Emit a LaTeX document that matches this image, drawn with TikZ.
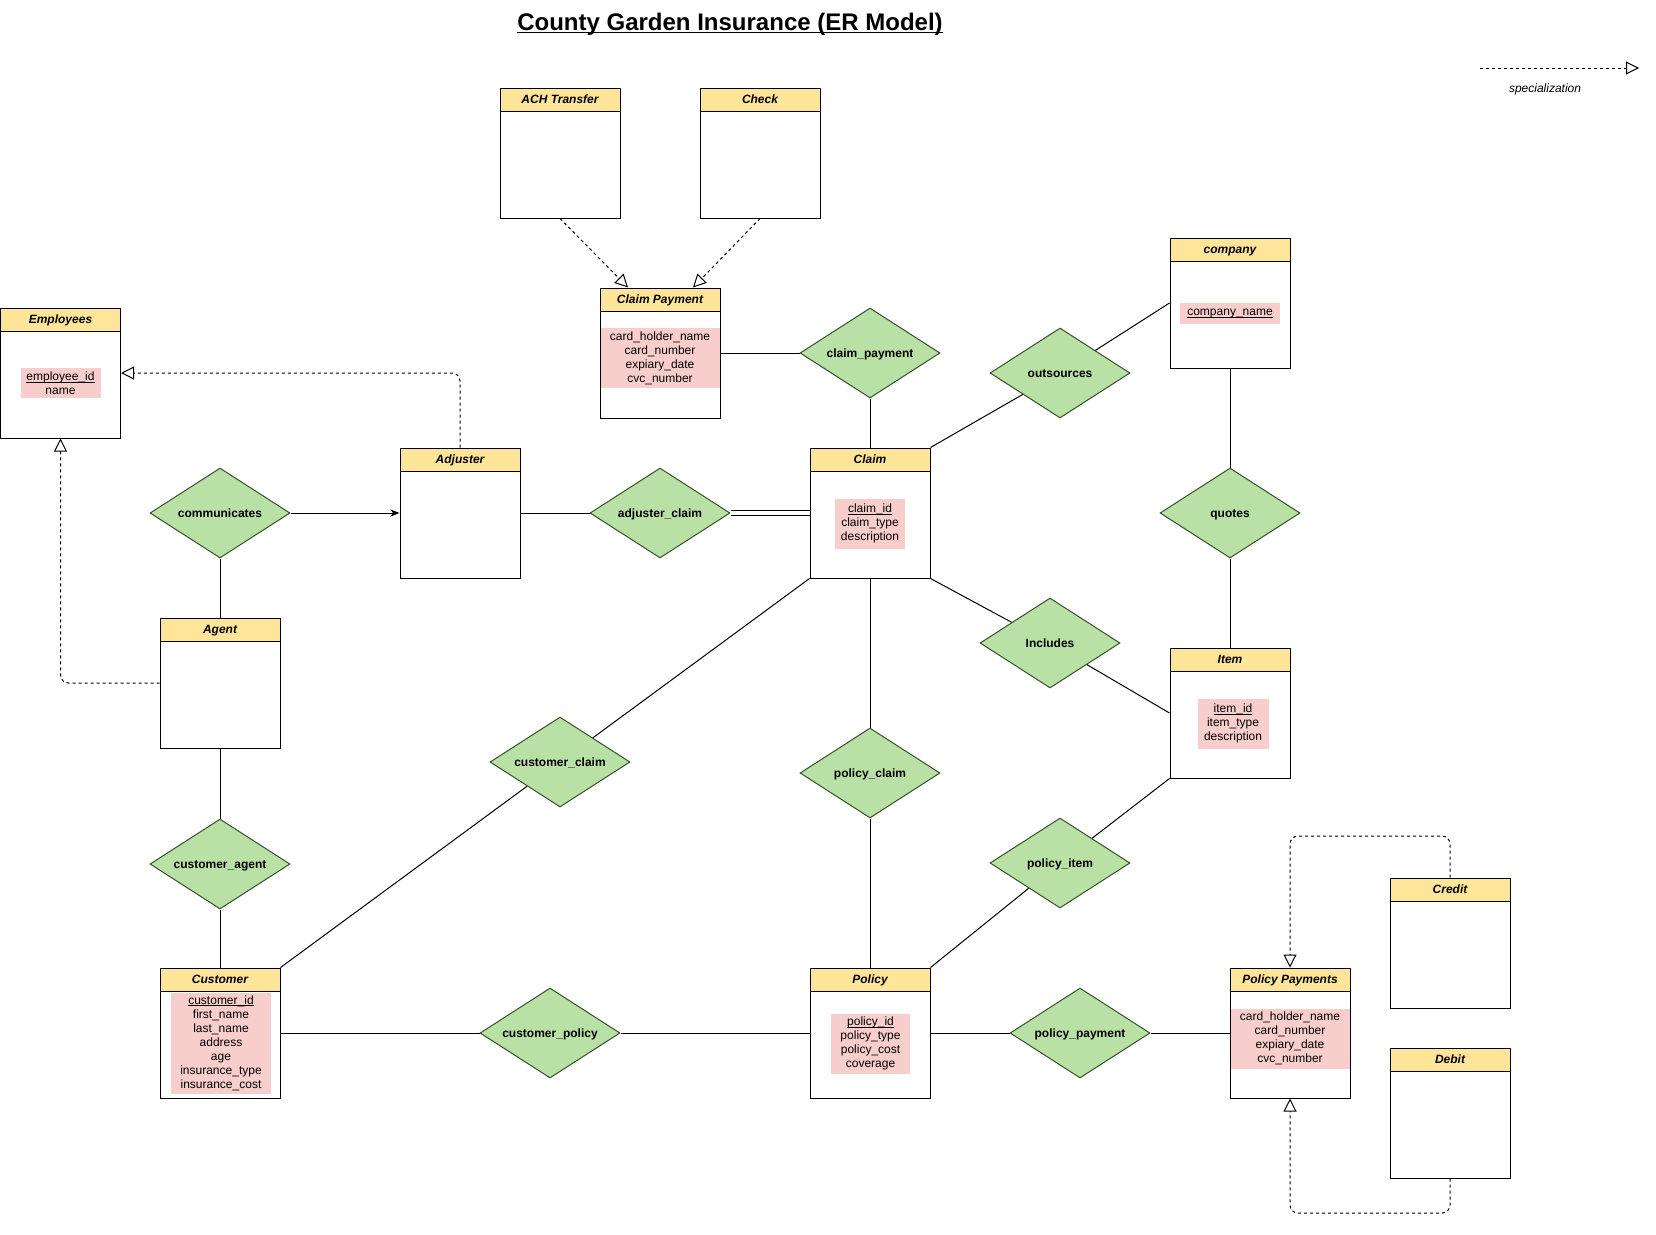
\documentclass[tikz,border=0pt]{standalone}
\usepackage{fontspec}
\setmainfont{Liberation Sans}
\setsansfont{Liberation Sans}
\usetikzlibrary{shapes.geometric,arrows.meta,calc}
\definecolor{hdr}{HTML}{FFE599}
\definecolor{relfill}{HTML}{B9E0A5}
\definecolor{relline}{HTML}{36522A}
\definecolor{pinkattr}{HTML}{F8CECC}
\newcommand\ERhead{\fontsize{12}{14}\selectfont\bfseries\itshape}
\newcommand\ERattr{\fontsize{12}{14}\selectfont}
\newcommand\ERrel{\fontsize{12}{14}\selectfont\bfseries}
\newcommand\ERtitle{\fontsize{24}{28}\selectfont\bfseries}
\newcommand\ERul[1]{\setbox0\hbox{#1}\rlap{\rule[-2pt]{\wd0}{0.7pt}}\box0}
\tikzset{
  entbody/.style={draw=black, line width=1pt, fill=white, minimum width=120pt, minimum height=130pt, inner sep=0pt},
  enthead/.style={draw=black, line width=1pt, fill=hdr, minimum width=120pt, minimum height=23pt, inner sep=0pt, font=\ERhead, text height=8.6pt, text depth=0pt, anchor=north},
  attr/.style={fill=pinkattr, inner sep=0pt, align=center, font=\ERattr},
  rel/.style={diamond, aspect=1.556, draw=relline, line width=1pt, fill=relfill, minimum width=140pt, minimum height=90pt, inner sep=0pt, font=\ERrel, text height=8.6pt, text depth=0pt},
  conn/.style={line width=1pt, draw=black},
  dbl/.style={line width=1pt, draw=black, double=white, double distance=3.5pt},
  spec/.style={line width=1pt, dash pattern=on 3pt off 3pt, rounded corners=8pt, -{Triangle[open, length=13pt, width=13pt]}},
}
\begin{document}
\begin{tikzpicture}[x=1pt,y=-1pt]
\useasboundingbox (0,0) rectangle (1656,1234);
\fill[white] (0,0) rectangle (1656,1234);

% title
\node[font=\ERtitle, inner sep=0pt, anchor=base] (title) at (730,30) {County Garden Insurance (ER Model)};
\draw[line width=1.6pt] ([yshift=-2.6pt]title.base west) -- ([yshift=-2.6pt]title.base east);

% legend
\coordinate (lg1) at (1480,68);
\coordinate (lg2) at (1639,68);
\draw[spec] (lg1) -- (lg2);
\node[font=\ERattr\itshape] (legtext) at (1545,89) {specialization};

% entities
\node[entbody] (ach) at (560,153) {};
\node[enthead] (achH) at (ach.north) {ACH Transfer};
\node[entbody] (check) at (760,153) {};
\node[enthead] (checkH) at (check.north) {Check};

\node[entbody] (cpay) at (660,353) {};
\node[enthead] (cpayH) at (cpay.north) {Claim Payment};
\node[attr, minimum width=119pt, minimum height=60pt] (cpayA) at (660,358) {card\_holder\_name\\card\_number\\expiary\_date\\cvc\_number};

\node[entbody] (company) at (1230,303) {};
\node[enthead] (companyH) at (company.north) {company};
\node[attr, minimum width=100pt, minimum height=21pt] (companyA) at (1230,313.5) {\ERul{company\_name}};

\node[entbody] (emp) at (60.5,373) {};
\node[enthead] (empH) at (emp.north) {Employees};
\node[attr, minimum width=80pt, minimum height=30pt] (empA) at (60.5,383) {\ERul{employee\_id}\\name};

\node[entbody] (adjuster) at (460,513) {};
\node[enthead] (adjusterH) at (adjuster.north) {Adjuster};

\node[entbody] (claim) at (870,513) {};
\node[enthead] (claimH) at (claim.north) {Claim};
\node[attr, minimum width=70pt, minimum height=50pt] (claimA) at (870,523.5) {\ERul{claim\_id}\\claim\_type\\description};

\node[entbody] (item) at (1230,713) {};
\node[enthead] (itemH) at (item.north) {Item};
\node[attr, minimum width=71pt, minimum height=50pt] (itemA) at (1233,723.5) {\ERul{item\_id}\\item\_type\\description};

\node[entbody] (agent) at (220,683) {};
\node[enthead] (agentH) at (agent.north) {Agent};

\node[entbody] (customer) at (220,1033) {};
\node[enthead] (customerH) at (customer.north) {Customer};
\node[attr, minimum width=100pt, minimum height=101pt] (customerA) at (221,1043) {\ERul{customer\_id}\\first\_name\\last\_name\\address\\age\\insurance\_type\\insurance\_cost};

\node[entbody] (policy) at (870,1033) {};
\node[enthead] (policyH) at (policy.north) {Policy};
\node[attr, minimum width=79pt, minimum height=60pt] (policyA) at (870.5,1043.5) {\ERul{policy\_id}\\policy\_type\\policy\_cost\\coverage};

\node[entbody] (ppay) at (1290,1033) {};
\node[enthead] (ppayH) at (ppay.north) {Policy Payments};
\node[attr, minimum width=119pt, minimum height=60pt] (ppayA) at (1290,1038.5) {card\_holder\_name\\card\_number\\expiary\_date\\cvc\_number};

\node[entbody] (credit) at (1450,943) {};
\node[enthead] (creditH) at (credit.north) {Credit};
\node[entbody] (debit) at (1450,1113) {};
\node[enthead] (debitH) at (debit.north) {Debit};

% relationships
\node[rel] (dcpay) at (870,353) {claim\_payment};
\node[rel] (dout) at (1060,373) {outsources};
\node[rel] (dcomm) at (220,513) {communicates};
\node[rel] (dadj) at (660,513) {adjuster\_claim};
\node[rel] (dquotes) at (1230,513) {quotes};
\node[rel] (dincl) at (1050,643) {Includes};
\node[rel] (dcustclaim) at (560,762) {customer\_claim};
\node[rel] (dpolclaim) at (870,773) {policy\_claim};
\node[rel] (dcustagent) at (220,864) {customer\_agent};
\node[rel] (dpolitem) at (1060,863) {policy\_item};
\node[rel] (dcustpol) at (550,1033) {customer\_policy};
\node[rel] (dpolpay) at (1080,1033) {policy\_payment};

% connectors
\draw[conn] (cpay.east) -- (dcpay);
\draw[conn] (dcpay) -- (claim.north);
\draw[conn] (claim.north east) -- (dout);
\draw[conn] (dout) -- (company.west);
\draw[conn] (company.south) -- (dquotes);
\draw[conn] (dquotes) -- (item.north);
\draw[conn, -{Stealth[length=9pt, width=7pt, inset=2.5pt]}] (dcomm) -- (adjuster.west);
\draw[conn] (dcomm) -- (agent.north);
\draw[conn] (adjuster.east) -- (dadj);
\draw[dbl] (dadj.east) -- (claim.west);
\draw[conn] (claim.south west) -- (dcustclaim);
\draw[conn] (dcustclaim) -- (customer.north east);
\draw[conn] (claim.south) -- (dpolclaim);
\draw[conn] (dpolclaim) -- (policy.north);
\draw[conn] (claim.south east) -- (dincl);
\draw[conn] (dincl) -- (item.west);
\draw[conn] (item.south west) -- (dpolitem);
\draw[conn] (dpolitem) -- (policy.north east);
\draw[conn] (agent.south) -- (dcustagent);
\draw[conn] (dcustagent) -- (customer.north);
\draw[conn] (customer.east) -- (dcustpol);
\draw[conn] (dcustpol) -- (policy.west);
\draw[conn] (policy.east) -- (dpolpay);
\draw[conn] (dpolpay) -- (ppay.west);

% specializations
\coordinate (cpayL) at ($(cpay.north)+(-32,0)$);
\coordinate (cpayR) at ($(cpay.north)+(33,0)$);
\draw[spec] (ach.south) -- (cpayL);
\draw[spec] (check.south) -- (cpayR);
\draw[spec] (adjuster.north) |- (emp.east);
\draw[spec] (agent.west) -| (emp.south);
\coordinate (cr1) at (1450,836);
\draw[spec] (credit.north) -- (cr1) -| (ppay.north);
\coordinate (db1) at (1450,1213);
\draw[spec] (debit.south) -- (db1) -| (ppay.south);
\end{tikzpicture}
\end{document}
